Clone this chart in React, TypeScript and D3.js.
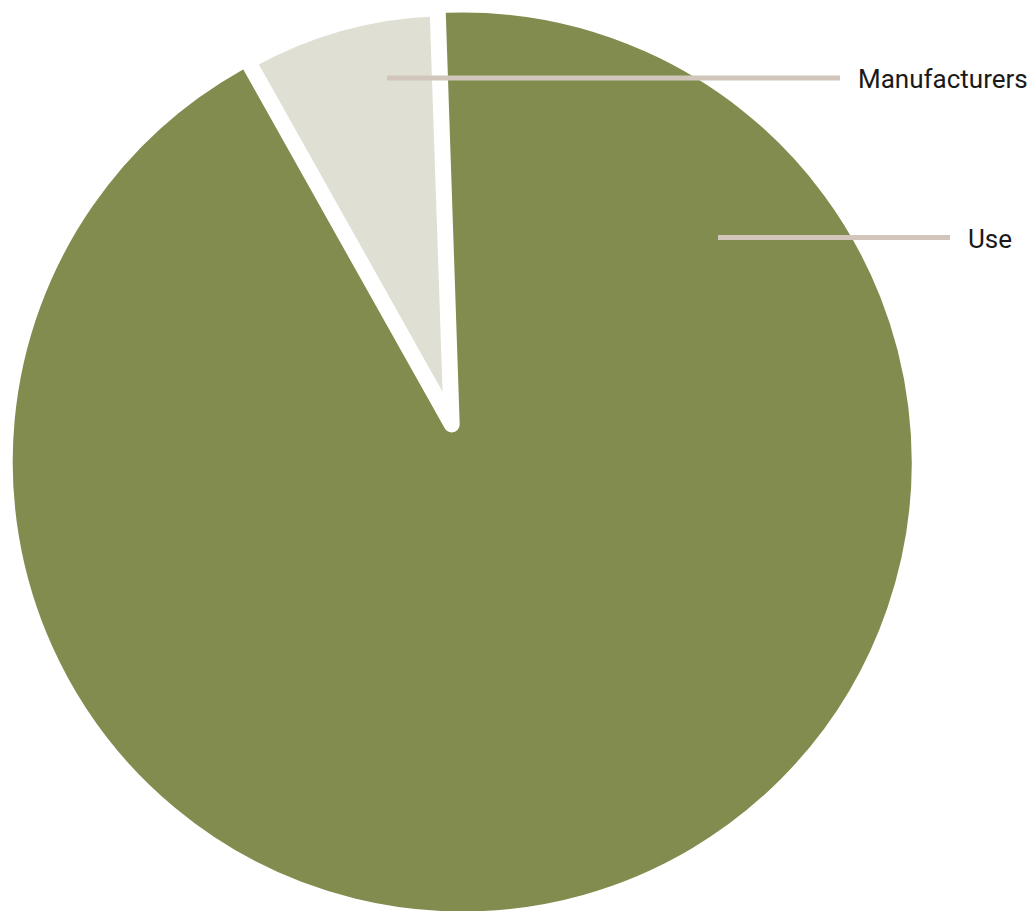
import React from "react";
import * as d3 from "d3";

// ---- data ----
const categories: string[] = ["Use", "Manufacturers"];
const values: number[] = [92.4, 7.6];
const sliceColors: string[] = ["#838C4F", "#DFE0D3"];
const explodedCategory = "Manufacturers";

// label annotations (layout)
const labelNames: string[] = ["Manufacturers", "Use"];
const labelY: number[] = [78, 237.5];
const labelLineStart: number[] = [387, 718];
const labelLineEnd: number[] = [840, 950];

// ---- layout ----
const W = 1031;
const H = 911;
const cx = 462.2;
const cy = 462;
const strokeW = 16;
const mainRadius = 441.5;
const explodedRadius = 416.5;
const explodeOffset = 39;
const startDeg = -1.94;

export default function App() {
  const pie = d3
    .pie<number>()
    .sort(null)
    .startAngle((startDeg * Math.PI) / 180)
    .endAngle((startDeg * Math.PI) / 180 + 2 * Math.PI);
  const arcs = pie(values);

  const slices = arcs.map((a, i) => {
    const name = categories[i];
    const exploded = name === explodedCategory;
    const r = exploded ? explodedRadius : mainRadius;
    const gen = d3.arc<d3.PieArcDatum<number>>().innerRadius(0).outerRadius(r);
    const mid = (a.startAngle + a.endAngle) / 2;
    const dx = exploded ? explodeOffset * Math.sin(mid) : 0;
    const dy = exploded ? -explodeOffset * Math.cos(mid) : 0;
    return (
      <path
        key={name}
        d={gen(a) || ""}
        transform={`translate(${cx + dx},${cy + dy})`}
        fill={sliceColors[i]}
        stroke={exploded ? "#ffffff" : sliceColors[i]}
        strokeWidth={strokeW}
        strokeLinejoin="round"
      />
    );
  });

  return (
    <svg
      width={W}
      height={H}
      viewBox={`0 0 ${W} ${H}`}
      style={{ position: "absolute", left: 0, top: 0, display: "block", background: "#ffffff" }}
    >
      {slices}
      {labelNames.map((n, i) => (
        <g key={n}>
          <line
            x1={labelLineStart[i]}
            x2={labelLineEnd[i]}
            y1={labelY[i]}
            y2={labelY[i]}
            stroke="#D2C5BC"
            strokeWidth={5}
          />
          <text
            x={labelLineEnd[i] + 18}
            y={labelY[i] + 10.3}
            fontFamily="Roboto, 'Noto Sans', sans-serif"
            fontSize={26}
            fill="#1a1a1a"
          >
            {n}
          </text>
        </g>
      ))}
    </svg>
  );
}
